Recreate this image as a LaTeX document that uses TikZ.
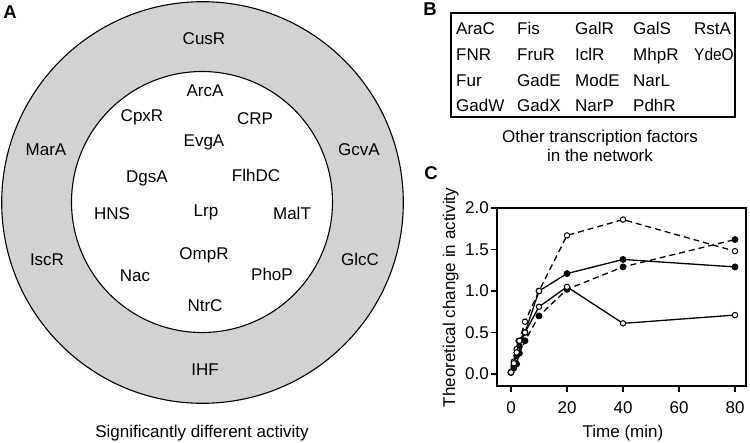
\documentclass[tikz,border=0pt]{standalone}
\usepackage{fontspec}
\setmainfont{Liberation Sans}
\definecolor{ringgray}{RGB}{210,210,210}
\begin{document}
\begin{tikzpicture}[x=1pt,y=-1pt,
  font=\fontsize{17pt}{19pt}\selectfont,
  lbl/.style={anchor=base,inner sep=0pt},
  blbl/.style={anchor=base west,inner sep=0pt},
  panel/.style={anchor=base,inner sep=0pt,font=\fontsize{18.5pt}{20pt}\selectfont\bfseries},
  thinline/.style={line width=1.1pt},
  series/.style={line width=1.3pt},
  dashser/.style={series,dash pattern=on 6pt off 4pt},
  openmk/.style={mark=*,mark size=2.7pt,mark options={solid,fill=white,line width=1pt}},
  fullmk/.style={mark=*,mark size=2.9pt,mark options={solid,fill=black,line width=1pt}}]
\useasboundingbox (0,0) rectangle (750,442);

% ---------- Panel A ----------
\node[panel] (pA) at (10,18.5) {A};
\draw[thinline,fill=ringgray] (202.5,202.5) circle[radius=200.8];
\draw[thinline,fill=white] (202,202) circle[radius=130.5];
\node[lbl] (CusR) at (204,44.3) {CusR};
\node[lbl] (MarA) at (46,155) {MarA};
\node[lbl] (GcvA) at (359,155) {GcvA};
\node[lbl] (IscR) at (47,265.5) {IscR};
\node[lbl] (GlcC) at (360,265.5) {GlcC};
\node[lbl] (IHF) at (205,375.5) {IHF};
\node[lbl] (ArcA) at (205,96.7) {ArcA};
\node[lbl] (CpxR) at (142,121) {CpxR};
\node[lbl] (CRP) at (255,124) {CRP};
\node[lbl] (EvgA) at (204,146.7) {EvgA};
\node[lbl] (DgsA) at (147,182.7) {DgsA};
\node[lbl] (FlhDC) at (256,181.7) {FlhDC};
\node[lbl] (HNS) at (112,219) {HNS};
\node[lbl] (Lrp) at (206,216.7) {Lrp};
\node[lbl] (MalT) at (292,219.3) {MalT};
\node[lbl] (OmpR) at (204,259) {OmpR};
\node[lbl] (Nac) at (135,281) {Nac};
\node[lbl] (PhoP) at (272,280.7) {PhoP};
\node[lbl] (NtrC) at (205,311) {NtrC};
\node[lbl] (capA) at (202,437) {Significantly different activity};

% ---------- Panel B ----------
\node[panel] (pB) at (430,15) {B};
\draw[thinline] (451,13) rectangle (735,117);
\node[blbl] (AraC) at (456,34.5) {AraC};
\node[blbl] (Fis)  at (517,34.5) {Fis};
\node[blbl] (GalR) at (575,34.5) {GalR};
\node[blbl] (GalS) at (633,34.5) {GalS};
\node[blbl] (RstA) at (694,34.5) {RstA};
\node[blbl] (FNR)  at (456,60.2) {FNR};
\node[blbl] (FruR) at (517,60.2) {FruR};
\node[blbl] (IclR) at (575,60.2) {IclR};
\node[blbl] (MhpR) at (633,60.2) {MhpR};
\node[blbl,xscale=0.91] (YdeO) at (694,60.2) {YdeO};
\node[blbl] (Fur)  at (456,86) {Fur};
\node[blbl] (GadE) at (517,86) {GadE};
\node[blbl] (ModE) at (575,86) {ModE};
\node[blbl] (NarL) at (633,86) {NarL};
\node[blbl] (GadW) at (456,111.7) {GadW};
\node[blbl] (GadX) at (517,111.7) {GadX};
\node[blbl] (NarP) at (575,111.7) {NarP};
\node[blbl] (PdhR) at (633,111.7) {PdhR};
\node[lbl] (capB1) at (600,142.7) {Other transcription factors};
\node[lbl] (capB2) at (600,161) {in the network};

% ---------- Panel C ----------
\node[panel] (pC) at (431,179) {C};
\draw[thinline] (497,208) rectangle (746,386);
% y ticks
\foreach \v/\t in {0/0.0,0.5/0.5,1/1.0,1.5/1.5,2/2.0}{
  \draw[thinline] (491,374-83*\v) -- (497,374-83*\v);
  \node[anchor=east,inner sep=0pt] at (489,374-83*\v) {\t};
}
% x ticks
\foreach \t in {0,20,40,60,80}{
  \draw[thinline] (511+2.8*\t,386) -- (511+2.8*\t,392);
  \node[lbl] at (511+2.8*\t,413) {\t};
}
\node[lbl] (xlab) at (623,437) {Time (min)};
\node[lbl,rotate=90] (ylab) at (455,297.5) {Theoretical change in activity};

\begin{scope}[shift={(511,374)},x=2.8pt,y=83pt]
  % solid, filled
  \draw[series,fullmk] plot coordinates {(0,0.02) (1,0.1) (2,0.22) (3,0.33) (5,0.5) (10,1.0) (20,1.21) (40,1.38) (80,1.29)};
  % dashed, filled
  \draw[dashser,fullmk] plot coordinates {(0,0.02) (1,0.07) (2,0.12) (3,0.25) (5,0.4) (10,0.7) (20,1.02) (40,1.29) (80,1.62)};
  % solid, open
  \draw[series,openmk] plot coordinates {(0,0.02) (1,0.15) (2,0.3) (2.7,0.4) (5,0.5) (10,0.81) (20,1.05) (40,0.61) (80,0.71)};
  % dashed, open
  \draw[dashser,openmk] plot coordinates {(0,0.02) (1,0.13) (2,0.26) (3,0.4) (5,0.63) (10,1.0) (20,1.67) (40,1.86) (80,1.48)};
\end{scope}
\end{tikzpicture}
\end{document}
